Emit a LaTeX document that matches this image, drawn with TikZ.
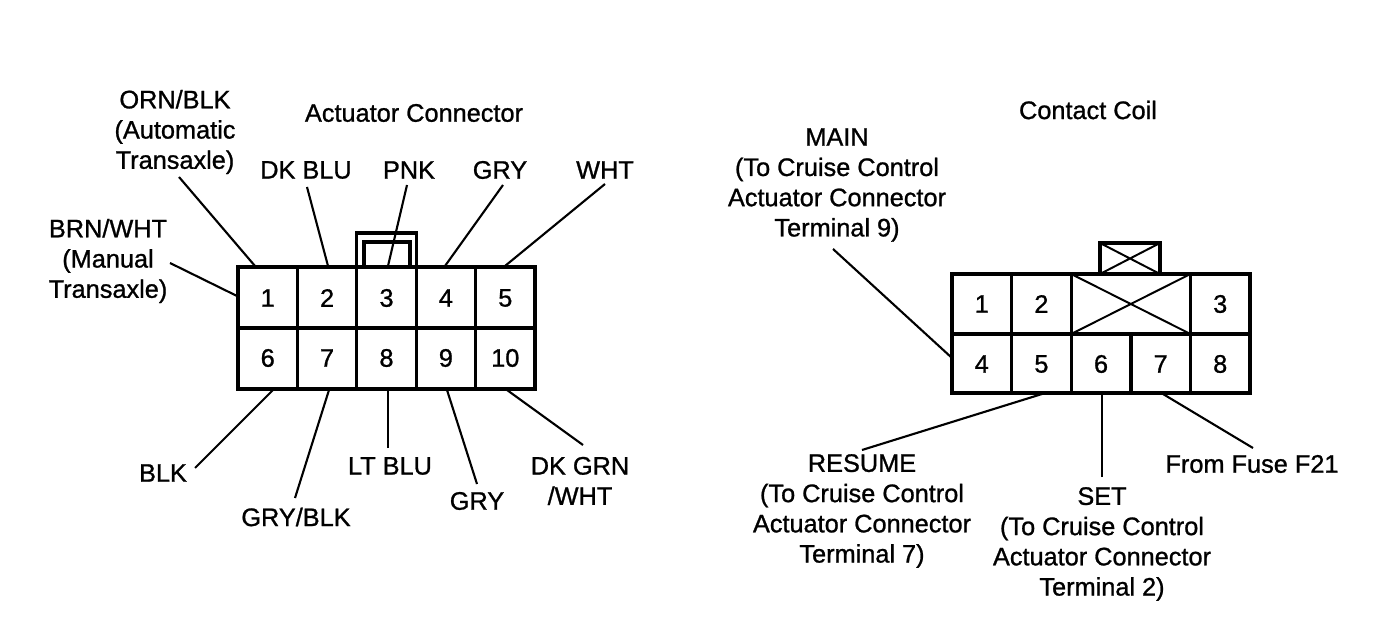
\documentclass[tikz,border=0pt]{standalone}
\usepackage{fontspec}
\setmainfont{Liberation Sans}
\newfontfamily\heavysans{Liberation Sans}[FakeBold=1]
\usetikzlibrary{positioning}
\tikzset{box/.style = {line width=2.4pt}}
\tikzset{lead/.style = {line width=1.5pt}}
\tikzset{cross/.style = {line width=1.4pt}}
\tikzset{lbl/.style = {align=center, inner sep=0, font=\heavysans\fontsize{18}{21.5}\selectfont}}
\tikzset{pin/.style = {inner sep=0, font=\heavysans\fontsize{18}{21.5}\selectfont}}

\begin{document}
\begin{tikzpicture}[x=0.025cm, y=-0.025cm]
  \useasboundingbox (0,0) rectangle (1392,628);

  \draw [box] (238,267) rectangle (535,389);
  \draw [box] (238,328) -- (535,328);
  \foreach \x in {297.4, 356.8, 416.2, 475.6}
    \draw [box] (\x,267) -- (\x,389);
  \draw [box] (356.8,267) |- (416.2,233) -- (416.2,267);
  \draw [box] (364,267) |- (410,242) -- (410,267);
  \foreach \i [evaluate=\i as \j using int(\i+5)] in {1,...,5} {
    \node [pin] (a\i) at ({238+59.4*(\i-0.5)}, 298) {\i};
    \node [pin] (a\j) at ({238+59.4*(\i-0.5)}, 358) {\j};
  }

  \draw [box] (952,274) rectangle (1250,393);
  \draw [box] (952,334) -- (1250,334);
  \foreach \x in {1011.6, 1071.2, 1190.4}
    \draw [box] (\x,274) -- (\x,393);
  \draw [box] (1130.8,334) -- (1130.8,393);
  \draw [cross] (1071.2,274) -- (1190.4,334) (1071.2,334) -- (1190.4,274);
  \draw [box] (1100,274) |- (1160,243) -- (1160,274);
  \draw [cross] (1100,243) -- (1160,274) (1100,274) -- (1160,243);
  \node [pin] (b1) at (981.8,304) {1};
  \node [pin] (b2) at (1041.4,304) {2};
  \node [pin] (b3) at (1220.2,304) {3};
  \foreach \i [evaluate=\i as \j using int(\i+3)] in {1,...,5}
    \node [pin] (b\j) at ({952+59.6*(\i-0.5)}, 364) {\j};

  \node [lbl] (actuator) at (414,113) {Actuator Connector};
  \node [lbl] (ornblk) at (175,132) {ORN/BLK\\(Automatic\\Transaxle)};
  \node [lbl] (dkblu) at (306,170) {DK BLU};
  \node [lbl] (pnk) at (409,170) {PNK};
  \node [lbl] (gryt) at (500,170) {GRY};
  \node [lbl] (wht) at (605,170) {WHT};
  \node [lbl] (brnwht) at (108,261) {BRN/WHT\\(Manual\\Transaxle)};
  \node [lbl] (blk) at (163,473) {BLK};
  \node [lbl] (gryblk) at (296,517) {GRY/BLK};
  \node [lbl] (ltblu) at (390,466) {LT BLU};
  \node [lbl] (gryb) at (477,501) {GRY};
  \node [lbl] (dkgrn) at (580,481) {DK GRN\\/WHT};

  \node [lbl] (coil) at (1088,110) {Contact Coil};
  \node [lbl] (main) at (837,185) {MAIN\\(To Cruise Control\\Actuator Connector\\Terminal 9)};
  \node [lbl] (resume) at (862,511) {RESUME\\(To Cruise Control\\Actuator Connector\\Terminal 7)};
  \node [lbl] (set) at (1102,544) {SET\\(To Cruise Control\\Actuator Connector\\Terminal 2)};
  \node [lbl] (fuse) at (1252,464) {From Fuse F21};

  \coordinate (ornblk-w) at (179,177);  \coordinate (a1-w) at (255,266);
  \coordinate (dkblu-w) at (307,187);   \coordinate (a2-w) at (328,266);
  \coordinate (pnk-w) at (407,185);     \coordinate (a3-w) at (388,266);
  \coordinate (gryt-w) at (503,185);    \coordinate (a4-w) at (445,266);
  \coordinate (wht-w) at (605,184);     \coordinate (a5-w) at (505,266);
  \coordinate (brnwht-w) at (170,263);  \coordinate (a1-s) at (237,296);
  \coordinate (blk-w) at (195,468);     \coordinate (a6-w) at (273,390);
  \coordinate (gryblk-w) at (295,498);  \coordinate (a7-w) at (329,390);
  \coordinate (ltblu-w) at (388,448);   \coordinate (a8-w) at (388,390);
  \coordinate (gryb-w) at (477,484);    \coordinate (a9-w) at (447,390);
  \coordinate (dkgrn-w) at (583,445);   \coordinate (a10-w) at (507,390);
  \coordinate (main-w) at (833,249);    \coordinate (b4-w) at (952,358);
  \coordinate (resume-w) at (862,450);  \coordinate (b5-w) at (1042,394);
  \coordinate (set-w) at (1102,477);    \coordinate (b6-w) at (1102,394);
  \coordinate (fuse-w) at (1253,448);   \coordinate (b7-w) at (1163,394);

  \draw [lead] (ornblk-w) -- (a1-w);
  \draw [lead] (dkblu-w) -- (a2-w);
  \draw [lead] (pnk-w) -- (a3-w);
  \draw [lead] (gryt-w) -- (a4-w);
  \draw [lead] (wht-w) -- (a5-w);
  \draw [lead] (brnwht-w) -- (a1-s);
  \draw [lead] (blk-w) -- (a6-w);
  \draw [lead] (gryblk-w) -- (a7-w);
  \draw [lead] (ltblu-w) -- (a8-w);
  \draw [lead] (gryb-w) -- (a9-w);
  \draw [lead] (dkgrn-w) -- (a10-w);
  \draw [lead] (main-w) -- (b4-w);
  \draw [lead] (resume-w) -- (b5-w);
  \draw [lead] (set-w) -- (b6-w);
  \draw [lead] (fuse-w) -- (b7-w);
\end{tikzpicture}
\end{document}
